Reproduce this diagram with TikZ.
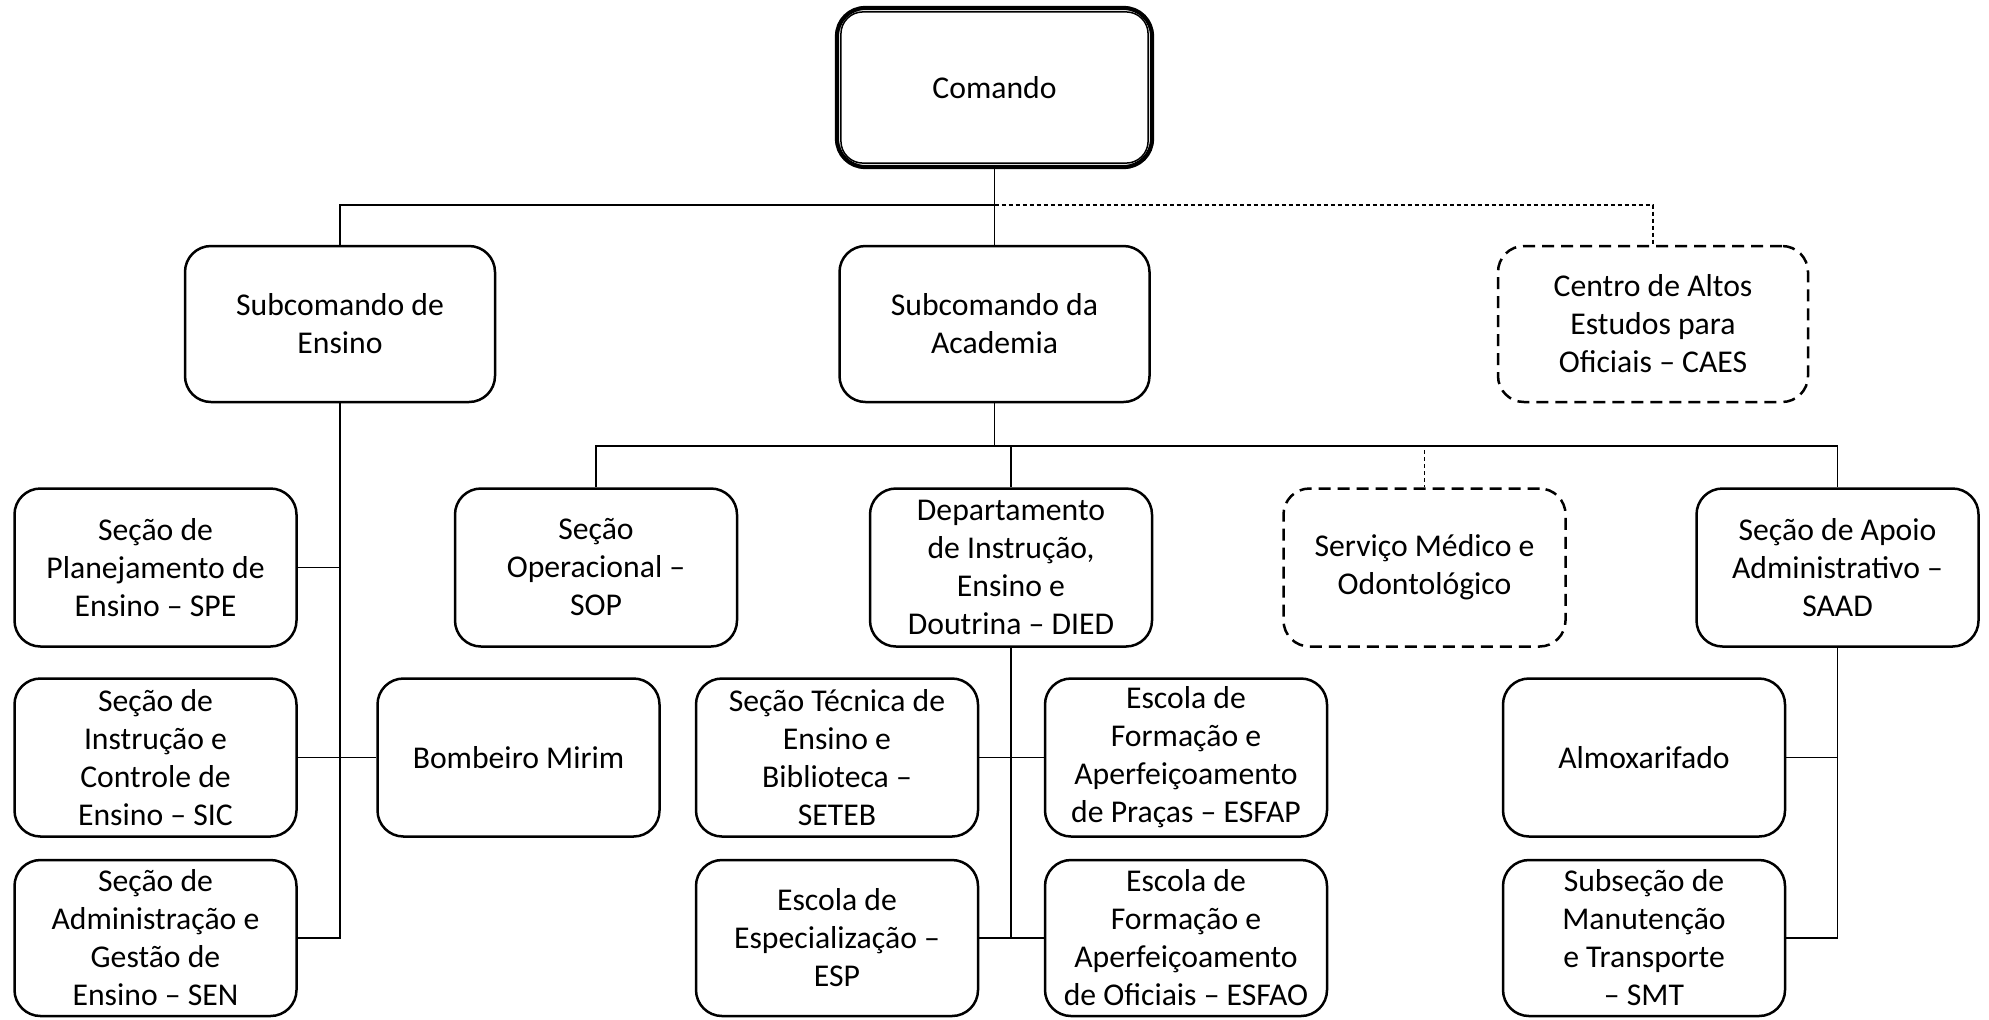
\documentclass[tikz,border=0pt]{standalone}
\usepackage{fontspec}
\setmainfont{Carlito}
\begin{document}
\begin{tikzpicture}[x=0.5pt,y=-0.5pt,
  box/.style={draw, line width=1.25pt, rounded corners=13pt, align=center, inner sep=0pt,
    font=\fontsize{15.85pt}{19pt}\selectfont, fill=white},
  dbox/.style={box, dash pattern=on 6pt off 3.5pt},
  lvl/.style={minimum width=155pt, minimum height=78pt},
  rowbox/.style={minimum width=141pt, minimum height=79pt},
  lowbox/.style={minimum width=141pt, minimum height=78pt},
  conn/.style={line width=0.65pt},
  dconn/.style={line width=0.65pt, dash pattern=on 2pt off 1.5pt}]
\useasboundingbox (0,0) rectangle (1989,1019);

% top
\node[box, line width=2.1pt, rounded corners=14pt, minimum width=157.5pt, minimum height=79.5pt] (com) at (994.5,87.5) {Comando};
\draw[line width=0.75pt, rounded corners=11pt] ([xshift=3pt,yshift=-3pt]com.north west) rectangle ([xshift=-3pt,yshift=3pt]com.south east);

% level 2
\node[box, lvl] (ens) at (340,324) {Subcomando de\\Ensino};
\node[box, lvl] (aca) at (994.5,324) {Subcomando da\\Academia};
\node[dbox, lvl] (caes) at (1653,324) {Centro de Altos\\Estudos para\\Oficiais – CAES};

% row A
\node[box, rowbox] (spe) at (155.5,567.5) {Seção de\\Planejamento de\\Ensino – SPE};
\node[box, rowbox] (sop) at (596,567.5) {Seção\\Operacional –\\SOP};
\node[box, rowbox] (died) at (1011,567.5) {Departamento\\de Instrução,\\Ensino e\\Doutrina – DIED};
\node[dbox, rowbox] (serv) at (1424.5,567.5) {Serviço Médico e\\Odontológico};
\node[box, rowbox] (saad) at (1837.5,567.5) {Seção de Apoio\\Administrativo –\\SAAD};

% row B
\node[box, rowbox] (sic) at (155.5,757.5) {Seção de\\Instrução e\\Controle de\\Ensino – SIC};
\node[box, rowbox] (bom) at (518.5,757.5) {Bombeiro Mirim};
\node[box, rowbox] (seteb) at (837,757.5) {Seção Técnica de\\Ensino e\\Biblioteca –\\SETEB};
\node[box, rowbox] (esfap) at (1186,757.5) {Escola de\\Formação e\\Aperfeiçoamento\\de Praças – ESFAP};
\node[box, rowbox] (almox) at (1644,757.5) {Almoxarifado};

% row C
\node[box, lowbox] (sen) at (155.5,938) {Seção de\\Administração e\\Gestão de\\Ensino – SEN};
\node[box, lowbox] (esp) at (837,938) {Escola de\\Especialização –\\ESP};
\node[box, lowbox] (esfao) at (1186,938) {Escola de\\Formação e\\Aperfeiçoamento\\de Oficiais – ESFAO};
\node[box, lowbox] (smt) at (1644,938) {Subseção de\\Manutenção\\e Transporte\\– SMT};

% junctions
\coordinate (j1) at (994.5,205);
\coordinate (j2) at (994.5,446);

% connectors level 1
\draw[conn] (com.south) -- (j1) -| (ens.north);
\draw[conn] (j1) -- (aca.north);
\draw[dconn] (j1) -| (caes.north);

% connectors level 2 (Academia)
\draw[conn] (aca.south) -- (j2) -| (sop.north);
\draw[conn] (j2) -| (died.north);
\draw[conn] (j2) -| (saad.north);
\draw[dconn] (j2) -| (serv.north);

% Ensino
\draw[conn] (ens.south) |- (sen.east);
\draw[conn] (spe.east) -- (spe.east -| ens.south);
\draw[conn] (sic.east) -- (bom.west);

% DIED
\draw[conn] (died.south) |- (esp.east);
\draw[conn] (esp.east) -- (esfao.west);
\draw[conn] (seteb.east) -- (esfap.west);

% SAAD
\draw[conn] (saad.south) |- (smt.east);
\draw[conn] (almox.east) -- (almox.east -| saad.south);
\end{tikzpicture}
\end{document}
